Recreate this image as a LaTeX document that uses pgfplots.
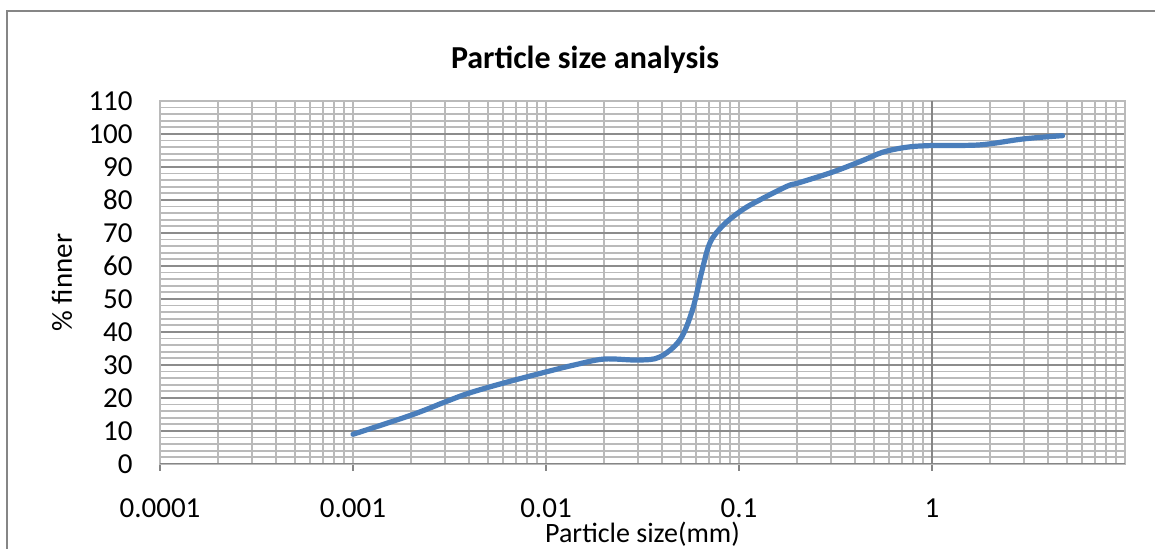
\documentclass[border=0pt]{standalone}
\usepackage{fontspec}
\setmainfont{Carlito}
\usepackage{pgfplots}
\pgfplotsset{compat=1.18}
\definecolor{excelblue}{RGB}{74,126,187}
\definecolor{gridminor}{RGB}{186,186,186}
\definecolor{gridmajor}{RGB}{140,140,140}
\definecolor{axisgray}{RGB}{134,134,134}

\begin{document}
\begin{tikzpicture}
\useasboundingbox (0,0) rectangle (577.5pt,274.5pt);
% outer chart frame
\draw[axisgray, line width=1pt] (3.5pt,-10pt) -- (3.5pt,269.2pt) -- (600pt,269.2pt);
\node[anchor=base, font=\bfseries\fontsize{16}{19}\selectfont] at (292.5pt,240.3pt) {Particle size analysis};
\begin{axis}[
  at={(80pt,42.5pt)}, anchor=south west,
  scale only axis, width=482.5pt, height=181.5pt,
  xmode=log, xmin=1e-4, xmax=10, ymin=0, ymax=110,
  xtick={1e-4,1e-3,1e-2,1e-1,1},
  xticklabels={0.0001,0.001,0.01,0.1,1},
  minor xtick={2e-4,3e-4,4e-4,5e-4,6e-4,7e-4,8e-4,9e-4,
               2e-3,3e-3,4e-3,5e-3,6e-3,7e-3,8e-3,9e-3,
               0.02,0.03,0.04,0.05,0.06,0.07,0.08,0.09,
               0.2,0.3,0.4,0.5,0.6,0.7,0.8,0.9,
               2,3,4,5,6,7,8,9},
  ytick={0,10,...,110},
  minor ytick={2,4,...,108},
  grid=both,
  major x grid style={gridminor, line width=0.9pt},
  minor x grid style={gridminor, line width=0.9pt},
  major y grid style={gridmajor, line width=0.9pt},
  minor y grid style={gridminor, line width=0.9pt},
  axis line style={gridminor, line width=0.9pt},
  tick align=outside,
  xtick pos=lower, ytick pos=left,
  major tick length=3.5pt, minor tick length=0pt,
  x tick style={axisgray, line width=0.8pt},
  y tick style={draw=none},
  tick label style={font=\fontsize{14.5}{17}\selectfont},
  /pgf/number format/assume math mode=true,
  xticklabel style={anchor=base, inner sep=0pt, yshift=-23.5pt},
  yticklabel style={anchor=east, inner sep=0pt, xshift=-10pt},
  xlabel={Particle size(mm)},
  xlabel style={at={(axis description cs:0.5,-0.2176)}, anchor=base, inner sep=0pt, font=\fontsize{14}{16}\selectfont},
  ylabel={\% finner},
  ylabel style={at={(axis description cs:-0.1016,0.5)}, anchor=center, font=\fontsize{14.5}{17}\selectfont},
]
\draw[axisgray, line width=1pt] (axis cs:1,0) -- (axis cs:1,110);
\draw[axisgray, line width=1pt] (rel axis cs:0,0) -- (rel axis cs:1,0);
\addplot[excelblue, line width=2.6pt, line cap=round, smooth, tension=0.55] coordinates {
  (0.001,9.0) (0.002,14.8) (0.003,18.8) (0.004,21.5) (0.006,24.5)
  (0.01,27.9) (0.014,30.0) (0.02,31.8) (0.03,31.5) (0.0388,32.4)
  (0.0494,37.6) (0.0574,46.7) (0.0639,57.9) (0.0707,67.0)
  (0.083,72.4) (0.104,77.0) (0.128,80.0) (0.178,84.2) (0.204,85.2)
  (0.307,88.5) (0.439,92.0) (0.557,94.5) (0.741,96.0) (1.0,96.5)
  (1.77,96.7) (2.97,98.5) (4.75,99.5)
};
\end{axis}
\end{tikzpicture}
\end{document}
